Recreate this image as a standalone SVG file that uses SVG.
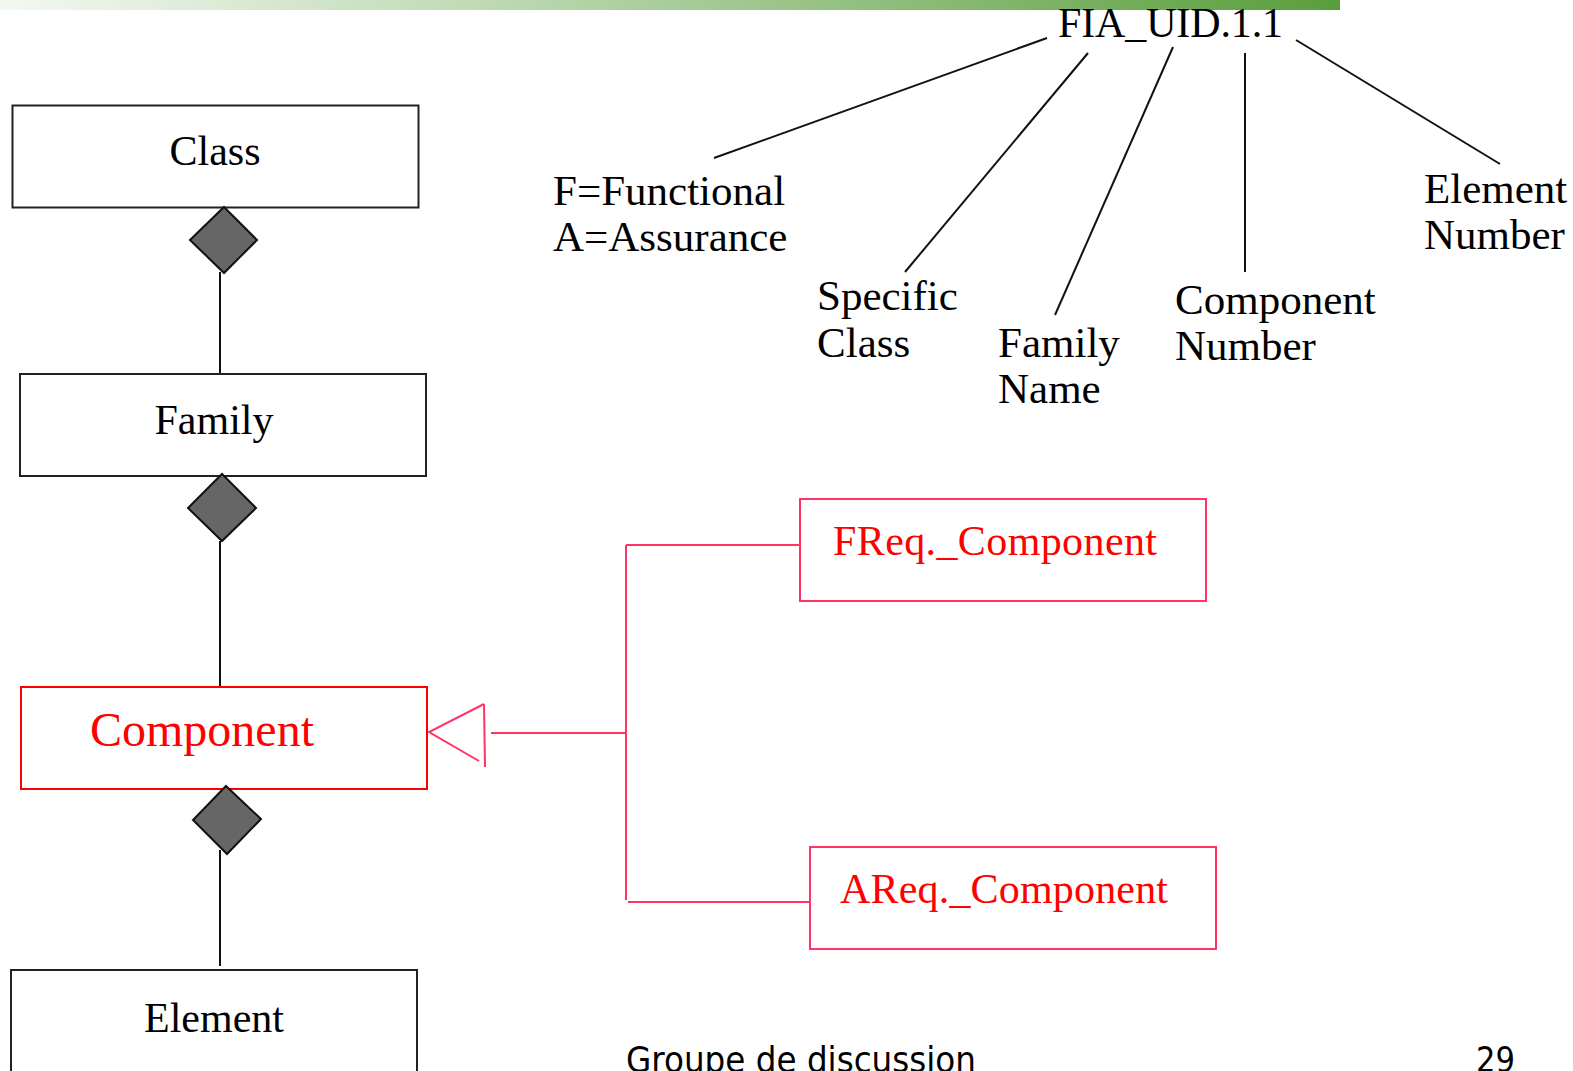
<svg xmlns="http://www.w3.org/2000/svg" width="1573" height="1071" viewBox="0 0 1573 1071">
<defs>
<linearGradient id="bar" x1="0" y1="0" x2="1" y2="0">
<stop offset="0" stop-color="#f4f8f2"/>
<stop offset="0.3" stop-color="#c8dfbf"/>
<stop offset="1" stop-color="#5a9e3c"/>
</linearGradient>
</defs>
<style>
.box{fill:#fff;stroke:#222;stroke-width:2}
.rbox{fill:#fff;stroke:#ff0000;stroke-width:2}
.pbox{fill:#fff;stroke:#ff3366;stroke-width:2}
.dia{fill:#666;stroke:#111;stroke-width:2}
.ln{stroke:#111;stroke-width:2;fill:none}
.pl{stroke:#ff3366;stroke-width:2;fill:none}
.t{font-family:"Liberation Serif","Times New Roman",serif;font-size:42px;fill:#000}
.lb{font-family:"Liberation Serif","Times New Roman",serif;font-size:43px;fill:#000}
.tr{font-family:"Liberation Serif","Times New Roman",serif;font-size:42px;fill:#ff0000}
.f{font-family:"DejaVu Sans","Liberation Sans",sans-serif;font-size:36px;fill:#000}
</style>
<rect x="0" y="0" width="1340" height="10" fill="url(#bar)"/>
<g id="connectors">
<line class="ln" x1="220" y1="272" x2="220" y2="374"/>
<line class="ln" x1="220" y1="541" x2="220" y2="687"/>
<line class="ln" x1="220" y1="850" x2="220" y2="966"/>
<polyline class="pl" points="484,704 429,732 479,761"/>
<line class="pl" x1="484" y1="704" x2="485" y2="767"/>
<line class="pl" x1="491" y1="733" x2="627" y2="733"/>
<line class="pl" x1="626" y1="545" x2="626" y2="900"/>
<line class="pl" x1="626" y1="545" x2="800" y2="545"/>
<line class="pl" x1="628" y1="902" x2="812" y2="902"/>
<line class="ln" x1="1047" y1="38" x2="714" y2="158"/>
<line class="ln" x1="1088" y1="53" x2="905" y2="272"/>
<line class="ln" x1="1173" y1="47" x2="1055" y2="315"/>
<line class="ln" x1="1245" y1="53" x2="1245" y2="272"/>
<line class="ln" x1="1296" y1="40" x2="1500" y2="164"/>
</g>
<g id="class">
<rect class="box" x="12.5" y="105.5" width="406" height="102"/>
<text class="t" x="215" y="165" text-anchor="middle">Class</text>
<polygon class="dia" points="224,207 257,240 224,273 190,240"/>
</g>
<g id="family">
<rect class="box" x="20" y="374" width="406" height="102"/>
<text class="t" x="214" y="434" text-anchor="middle">Family</text>
<polygon class="dia" points="222,474 256,508 222,541 188,508"/>
</g>
<g id="component">
<rect class="rbox" x="21" y="687" width="406" height="102"/>
<text class="tr" x="90" y="746" style="font-size:48px">Component</text>
<polygon class="dia" points="226,786 261,819 227,854 193,820"/>
</g>
<g id="element">
<rect class="box" x="11" y="970" width="406" height="110"/>
<text class="t" x="214" y="1032" text-anchor="middle">Element</text>
</g>
<g id="freq">
<rect class="pbox" x="800" y="499" width="406" height="102"/>
<text class="tr" x="833" y="555" textLength="324">FReq._Component</text>
</g>
<g id="areq">
<rect class="pbox" x="810" y="847" width="406" height="102"/>
<text class="tr" x="840" y="903" textLength="328">AReq._Component</text>
</g>
<g id="fia">
<text class="t" x="1058" y="37" textLength="225">FIA_UID.1.1</text>
</g>
<g id="labels">
<text class="lb" x="553" y="205">F=Functional</text>
<text class="lb" x="553" y="251">A=Assurance</text>
<text class="lb" x="817" y="310">Specific</text>
<text class="lb" x="817" y="357">Class</text>
<text class="lb" x="998" y="357">Family</text>
<text class="lb" x="998" y="403">Name</text>
<text class="lb" x="1175" y="314">Component</text>
<text class="lb" x="1175" y="360">Number</text>
<text class="lb" x="1424" y="203">Element</text>
<text class="lb" x="1424" y="249">Number</text>
</g>
<g id="footer">
<text class="f" x="626" y="1072" textLength="350" lengthAdjust="spacingAndGlyphs">Groupe de discussion</text>
<text class="f" x="1476" y="1072" textLength="39" lengthAdjust="spacingAndGlyphs">29</text>
</g>
</svg>
